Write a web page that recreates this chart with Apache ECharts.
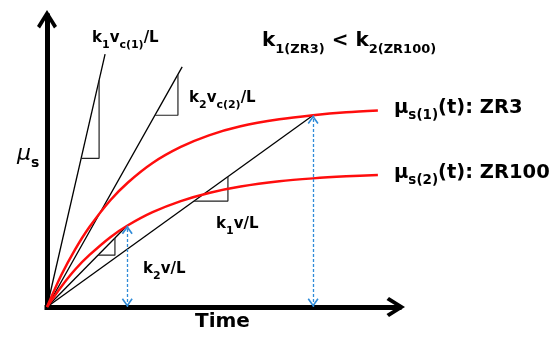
<!DOCTYPE html>
<html><head><meta charset="utf-8">
<script src="https://cdn.jsdelivr.net/npm/echarts@6/dist/echarts.min.js"></script>
<style>html,body{margin:0;padding:0;background:#fff}#c{width:555px;height:339px}</style>
</head><body><div id="c"></div>
<script>
// ---- data (schematic units: time 0..10, friction 0..1) ----
const xRange = [0, 10];
const yRange = [0, 1];
// red curves mu_s(t)
const curveTime = [0, 0.4, 0.8, 1.2, 1.8, 2.3, 3.0, 3.8, 4.6, 5.5, 6.6, 7.56, 8.5, 9.4];
const muZR3   = [0, 0.108, 0.198, 0.274, 0.367, 0.428, 0.495, 0.550, 0.590, 0.621, 0.645, 0.659, 0.669, 0.675];
const muZR100 = [0, 0.069, 0.129, 0.178, 0.240, 0.281, 0.326, 0.364, 0.392, 0.414, 0.432, 0.442, 0.449, 0.454];
// straight slope lines from the origin
const lineK1vc1 = [[0, 0], [1.65, 0.869]];
const lineK2vc2 = [[0, 0], [3.84, 0.825]];
const lineK1v   = [[0, 0], [7.56, 0.659]];
const lineK2v   = [[0, 0], [2.28, 0.28]];
// slope triangles
const triK1vc1 = [[0.97, 0.511], [1.48, 0.511], [1.48, 0.779]];
const triK2vc2 = [[3.07, 0.659], [3.72, 0.659], [3.72, 0.799]];
const triK1v   = [[4.18, 0.364], [5.14, 0.364], [5.14, 0.448]];
const triK2v   = [[1.45, 0.178], [1.93, 0.178], [1.93, 0.237]];
// blue double arrows: [time, from, to]
const arrowZR3   = [7.56, 0, 0.659];
const arrowZR100 = [2.28, 0, 0.28];
// texts
const yTitle = '{i|μ}{s|s}';
const xTitle = 'Time';
const txtK1vc1 = '{m|k}{s|1}{m|v}{s|c(1)}{m|/L}';
const txtK2vc2 = '{m|k}{s|2}{m|v}{s|c(2)}{m|/L}';
const txtK1v = '{m|k}{s|1}{m|v/L}';
const txtK2v = '{m|k}{s|2}{m|v/L}';
const txtCompare = '{m|k}{s|1(ZR3)}{m| < k}{s|2(ZR100)}';
const txtZR3 = '{m|μ}{s|s(1)}{m|(t): ZR3}';
const txtZR100 = '{m|μ}{s|s(2)}{m|(t): ZR100}';

// ---- chart ----
const F = 'DejaVu Sans';
const zip = (xs, ys) => xs.map((x, i) => [x, ys[i]]);
const axisArrow = 'path://M10 0 L20 16 L17 18.5 L10 7 L3 18.5 L0 16 Z';
const smallArrow = 'path://M5 -8 L5 -8 M5 0 L10 7 L8.8 8 L5 2.6 L1.2 8 L0 7 Z';

function richLabel(text, x, y, M, S) {
  const P = 1.1 * M + 1 - 0.85 * S;
  return {
    type: 'text', x: x, y: y, silent: true, z: 100,
    style: {
      text: text, fill: '#000',
      rich: {
        m: {fontSize: M, fontWeight: 'bold', fontFamily: F, lineHeight: M + 2, verticalAlign: 'top', fill: '#000'},
        s: {fontSize: S, fontWeight: 'bold', fontFamily: F, lineHeight: S, padding: [P, 0, 0, 0], verticalAlign: 'top', fill: '#000'}
      }
    }
  };
}

function blackLine(data) {
  return {type: 'line', data: data, showSymbol: false, symbol: 'none', silent: true,
    lineStyle: {color: '#000', width: 1.3}, z: 3};
}
function triangle(data) {
  return {type: 'line', data: data, showSymbol: false, symbol: 'none', silent: true,
    lineStyle: {color: '#222', width: 1.2}, z: 3};
}

const axisCommon = {
  type: 'value',
  axisLine: {show: true, onZero: false, symbol: ['none', axisArrow], symbolSize: [20, 18.5], symbolOffset: [0, -3.25],
    lineStyle: {color: '#000', width: 5, cap: 'square'}},
  axisTick: {show: false}, axisLabel: {show: false}, splitLine: {show: false}
};

const chart = echarts.init(document.getElementById('c'));
chart.setOption({
  animation: false,
  backgroundColor: '#fff',
  grid: {left: 47, right: 156, top: 16, bottom: 32, containLabel: false},
  xAxis: Object.assign({}, axisCommon, {min: xRange[0], max: xRange[1]}),
  yAxis: Object.assign({}, axisCommon, {min: yRange[0], max: yRange[1]}),
  series: [
    blackLine(lineK1vc1), blackLine(lineK2vc2), blackLine(lineK1v), blackLine(lineK2v),
    triangle(triK1vc1), triangle(triK2vc2), triangle(triK1v), triangle(triK2v),
    {type: 'line', data: zip(curveTime, muZR3), smooth: 0.3, showSymbol: false, symbol: 'none', silent: true,
      lineStyle: {color: '#ff0d0d', width: 2.5}, z: 4,
      markLine: {silent: true, animation: false, symbol: [smallArrow, smallArrow], symbolSize: [11, 17.6],
        label: {show: false}, emphasis: {disabled: true},
        lineStyle: {color: '#2f8bd8', type: [3, 2], width: 1.3},
        data: [
          [{coord: [arrowZR3[0], arrowZR3[1]]}, {coord: [arrowZR3[0], arrowZR3[2]]}],
          [{coord: [arrowZR100[0], arrowZR100[1]]}, {coord: [arrowZR100[0], arrowZR100[2]]}]
        ]}},
    {type: 'line', data: zip(curveTime, muZR100), smooth: 0.3, showSymbol: false, symbol: 'none', silent: true,
      lineStyle: {color: '#ff0d0d', width: 2.5}, z: 4}
  ],
  graphic: [
    richLabel(txtK1vc1, 92, 31, 15, 11),
    richLabel(txtCompare, 262, 31, 20, 13),
    richLabel(txtK2vc2, 189, 91, 15, 11),
    richLabel(txtZR3, 394, 98, 19.5, 13.5),
    richLabel(txtZR100, 394, 163, 19.5, 13.5),
    richLabel(txtK1v, 216, 217, 15, 11),
    richLabel(txtK2v, 143, 262, 15, 11),
    {type: 'text', x: 195, y: 312, silent: true,
      style: {text: xTitle, fill: '#000', font: 'bold 20px "DejaVu Sans"'}},
    {type: 'text', x: 17, y: 143, silent: true,
      style: {text: yTitle, fill: '#000', rich: {
        i: {fontSize: 22, fontStyle: 'italic', fontFamily: F, lineHeight: 24, verticalAlign: 'top', fill: '#000'},
        s: {fontSize: 14, fontWeight: 'bold', fontFamily: F, lineHeight: 14, padding: [13, 0, 0, 0], verticalAlign: 'top', fill: '#000'}
      }}}
  ]
});
</script>
</body></html>
